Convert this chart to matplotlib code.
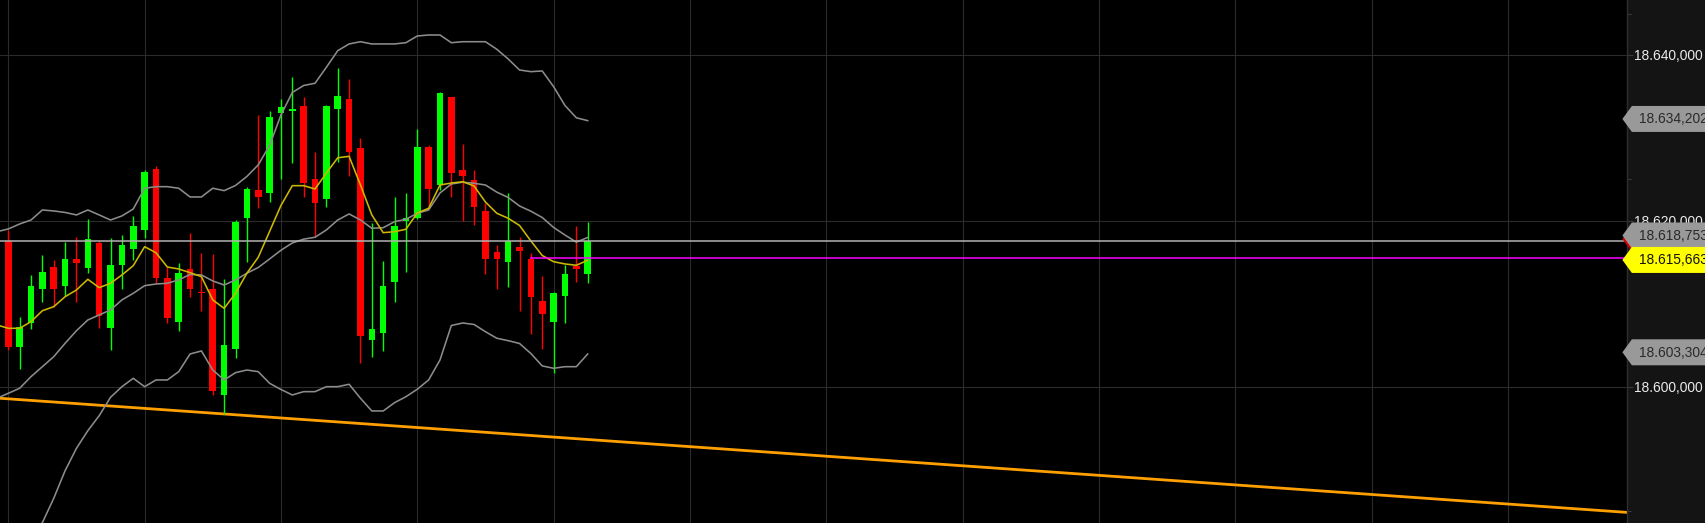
import matplotlib
matplotlib.use("Agg")
import matplotlib.pyplot as plt
import numpy as np
from matplotlib.patches import Polygon
from matplotlib.transforms import Affine2D
from matplotlib.ticker import FuncFormatter

plt.rcParams['font.family'] = ['Liberation Sans', 'DejaVu Sans']

# ---------------- data ----------------
idx = list(range(-1, 52))
opens = [18615.30, 18617.60, 18604.82, 18607.64, 18611.74, 18614.40, 18612.18, 18615.40, 18614.35, 18617.36,
         18607.11, 18614.67, 18616.64, 18618.90, 18626.29, 18613.14, 18607.76, 18614.23, 18611.38, 18611.74,
         18599.00, 18604.54, 18620.31, 18623.72, 18623.39, 18632.97, 18633.28, 18633.85, 18625.04, 18622.63,
         18633.45, 18634.66, 18628.82, 18605.63, 18606.51, 18612.66, 18619.98, 18620.31, 18628.94, 18624.32,
         18634.90, 18626.13, 18624.92, 18621.22, 18616.28, 18615.00, 18616.81, 18615.40, 18610.33, 18607.76,
         18610.97, 18614.59, 18613.59]
highs = [18618.60, 18618.90, 18608.40, 18613.47, 18615.88, 18615.28, 18617.41, 18618.01, 18620.19, 18617.57,
         18617.89, 18618.29, 18620.58, 18626.13, 18626.65, 18614.47, 18614.95, 18618.50, 18616.16, 18616.00,
         18612.95, 18620.10, 18624.12, 18632.76, 18633.25, 18634.66, 18637.38, 18634.90, 18628.30, 18633.97,
         18638.39, 18637.07, 18630.03, 18619.70, 18615.19, 18622.91, 18623.39, 18631.07, 18629.14, 18635.50,
         18634.94, 18629.27, 18626.13, 18622.11, 18617.09, 18623.39, 18618.01, 18616.09, 18613.38, 18611.42,
         18614.67, 18619.38, 18619.82]
lows = [18614.80, 18604.42, 18602.13, 18606.96, 18610.25, 18609.65, 18610.94, 18610.25, 18613.75, 18607.04,
        18604.42, 18611.74, 18615.28, 18617.89, 18612.47, 18607.72, 18606.72, 18610.85, 18609.13, 18599.00,
        18596.71, 18603.42, 18615.00, 18621.58, 18622.31, 18625.04, 18626.94, 18622.91, 18618.09, 18621.63,
        18627.06, 18625.44, 18602.89, 18603.62, 18604.30, 18610.25, 18613.87, 18620.19, 18621.51, 18623.72,
        18622.91, 18620.02, 18619.50, 18613.59, 18611.74, 18612.06, 18609.13, 18606.35, 18604.51, 18601.61,
        18607.64, 18612.66, 18612.54]
closes = [18617.70, 18604.82, 18607.20, 18612.18, 18613.87, 18611.74, 18615.40, 18614.88, 18617.81, 18608.56,
          18614.67, 18617.09, 18619.38, 18625.85, 18613.14, 18608.25, 18613.75, 18611.74, 18611.26, 18599.48,
          18604.99, 18619.90, 18623.84, 18622.91, 18632.49, 18633.69, 18633.52, 18624.60, 18622.19, 18633.85,
          18635.05, 18628.30, 18606.11, 18606.96, 18612.18, 18619.38, 18620.31, 18628.94, 18623.88, 18635.38,
          18625.73, 18625.44, 18621.70, 18615.40, 18615.40, 18617.60, 18616.40, 18610.85, 18608.73, 18611.26,
          18613.59, 18614.15, 18617.60]

bb_upper = [18618.69, 18619.02, 18619.62, 18620.10, 18621.31, 18621.19, 18621.01, 18620.71, 18621.31, 18620.71,
            18620.10, 18620.59, 18621.43, 18623.93, 18624.12, 18624.12, 18623.93, 18622.88, 18622.88, 18623.93,
            18623.64, 18624.26, 18625.35, 18626.74, 18629.09, 18632.76, 18635.48, 18636.32, 18636.59, 18638.52,
            18640.52, 18641.33, 18641.60, 18641.33, 18641.33, 18641.33, 18641.48, 18642.29, 18642.41, 18642.41,
            18641.48, 18641.60, 18641.60, 18641.60, 18640.69, 18639.52, 18638.19, 18637.99, 18638.07, 18636.18,
            18633.91, 18632.43, 18632.08]
bb_middle = [18598.60, 18599.20, 18599.81, 18601.21, 18602.41, 18603.62, 18605.23, 18606.75, 18608.04, 18608.65,
             18609.25, 18610.46, 18611.26, 18612.18, 18612.38, 18612.47, 18612.87, 18613.53, 18613.47, 18612.75,
             18612.26, 18612.87, 18613.68, 18614.37, 18615.40, 18616.45, 18617.33, 18617.79, 18618.02, 18618.90,
             18620.10, 18620.83, 18620.10, 18619.10, 18619.17, 18619.90, 18620.19, 18620.91, 18621.31, 18623.36,
             18624.44, 18624.66, 18624.53, 18624.32, 18623.46, 18622.82, 18621.79, 18621.16, 18620.40, 18619.20,
             18618.29, 18617.43, 18617.99]
bb_lower = [18578.50, 18579.40, 18579.95, 18582.30, 18583.60, 18586.54, 18589.87, 18592.57, 18594.69, 18596.50,
            18598.72, 18600.00, 18601.01, 18600.00, 18600.81, 18600.81, 18601.81, 18603.94, 18604.31, 18602.01,
            18600.81, 18601.69, 18602.01, 18601.81, 18600.41, 18599.66, 18599.00, 18599.40, 18599.40, 18600.00,
            18600.00, 18600.29, 18598.60, 18597.07, 18597.07, 18598.07, 18598.79, 18599.69, 18600.81, 18603.22,
            18607.38, 18607.68, 18607.50, 18606.63, 18605.84, 18605.55, 18605.21, 18604.00, 18602.50, 18602.22,
            18602.41, 18602.41, 18603.94]
ma_yellow = [18607.44, 18607.04, 18607.04, 18607.84, 18609.16, 18609.65, 18610.85, 18611.66, 18612.95, 18611.94,
             18612.47, 18613.47, 18614.59, 18616.88, 18616.15, 18614.43, 18614.19, 18613.75, 18613.27, 18610.46,
             18609.45, 18611.26, 18613.68, 18615.60, 18618.72, 18621.85, 18624.24, 18624.24, 18623.84, 18625.77,
             18627.60, 18627.78, 18624.32, 18620.71, 18618.57, 18618.69, 18618.98, 18620.95, 18621.51, 18624.32,
             18624.56, 18624.72, 18624.20, 18622.27, 18620.91, 18620.31, 18619.44, 18617.57, 18615.82, 18615.07,
             18614.80, 18614.64, 18615.24]

trend_x = [-1, 143]
trend_y = [18598.63, 18584.79]

magenta_level = 18615.5
magenta_start = 45.9

y_major = [18600, 18620, 18640]
y_minor = [18585, 18605, 18625, 18645]
grid_x = list(range(0, 133, 12))

tag_upper = "18.634,202"
tag_middle = "18.618,753"
tag_lower = "18.603,304"
tag_level = "18.615,663"

# ---------------- figure ----------------
W, H = 1706, 523
fig = plt.figure(figsize=(W / 100, H / 100), dpi=100, facecolor='#141414')
plot_right_px = 1626.7
ax = fig.add_axes([0, 0, plot_right_px / W, 1])
ax.set_facecolor('black')

xl = (-0.7306, 142.46)
yl = (18583.56, 18646.63)
ax.set_xlim(*xl)
ax.set_ylim(*yl)

FS = 9.9

# grid
ax.set_xticks(grid_x)
ax.set_yticks(y_major)
ax.set_yticks(y_minor, minor=True)
ax.grid(True, which='major', color='#2b2b2b', lw=0.8, zorder=0)
ax.set_axisbelow(True)
ax.tick_params(axis='x', length=0, labelbottom=False)
ax.yaxis.tick_right()
ax.tick_params(axis='y', which='major', length=4.5, width=0.8, color='#3a3a3a',
               labelcolor='#ececec', labelsize=FS, pad=1.0)
ax.tick_params(axis='y', which='minor', length=3, width=0.8, color='#3a3a3a')


def eu_fmt(v, pos):
    s = f"{v:,.3f}"
    return s.replace(',', 'X').replace('.', ',').replace('X', '.')


ax.yaxis.set_major_formatter(FuncFormatter(eu_fmt))
for side in ['top', 'bottom', 'left']:
    ax.spines[side].set_visible(False)
ax.spines['right'].set_color('#2e2e2e')
ax.spines['right'].set_linewidth(1.0)

# orange trend line
ax.plot(trend_x, trend_y, color='#FFA000', lw=2.0, zorder=2, solid_capstyle='butt')

# candles
x = np.array(idx, dtype=float)
o = np.array(opens)
c = np.array(closes)
hi = np.array(highs)
lo = np.array(lows)
up = c >= o
cols = np.where(up, '#00FF00', '#FF0000')
ax.vlines(x, lo, hi, colors=cols, lw=1.0, zorder=3)
body_bottom = np.minimum(o, c)
body_h = np.maximum(np.abs(c - o), 0.15)
ax.bar(x, body_h, bottom=body_bottom, width=0.58, color=cols, linewidth=0, zorder=4)

# bollinger bands and MA
ax.plot(x, bb_upper, color='#8c8c8c', lw=1.15, zorder=5)
ax.plot(x, bb_middle, color='#8c8c8c', lw=1.15, zorder=5)
ax.plot(x, bb_lower, color='#8c8c8c', lw=1.15, zorder=5)
ax.plot(x, ma_yellow, color='#CDB800', lw=1.15, zorder=6)

# horizontal lines
ax.axhline(closes[-1], color='#b4b4b4', lw=1.1, zorder=6)
ax.hlines(magenta_level, magenta_start, xl[1], color='#FF00FF', lw=1.1, zorder=6)


# price tags on the right scale
def tag(value, text, face, tcolor, dy=0.0):
    px, py = ax.transData.transform((xl[1], value))
    tr = Affine2D().translate(px, py + dy)
    hh = 13.0
    verts = [(-4.3, 0), (5.2, hh), (95, hh), (95, -hh), (5.2, -hh)]
    fig.add_artist(Polygon(verts, closed=True, transform=tr, facecolor=face,
                           edgecolor='none', zorder=10))
    if text:
        fig.text(12.0, -0.5, text, transform=tr, ha='left', va='center',
                 fontsize=FS, color=tcolor, zorder=11)


tag(closes[-1], None, '#D00000', 'black', dy=1.7)
tag(bb_upper[-1], tag_upper, '#999999', '#2a2a2a', dy=1.7)
tag(bb_middle[-1], tag_middle, '#999999', '#2a2a2a', dy=2.0)
tag(bb_lower[-1], tag_lower, '#999999', '#2a2a2a', dy=1.7)
tag(magenta_level, tag_level, '#FFFF00', '#111111', dy=-1.8)

fig.savefig('out.png', dpi=100, facecolor=fig.get_facecolor())
